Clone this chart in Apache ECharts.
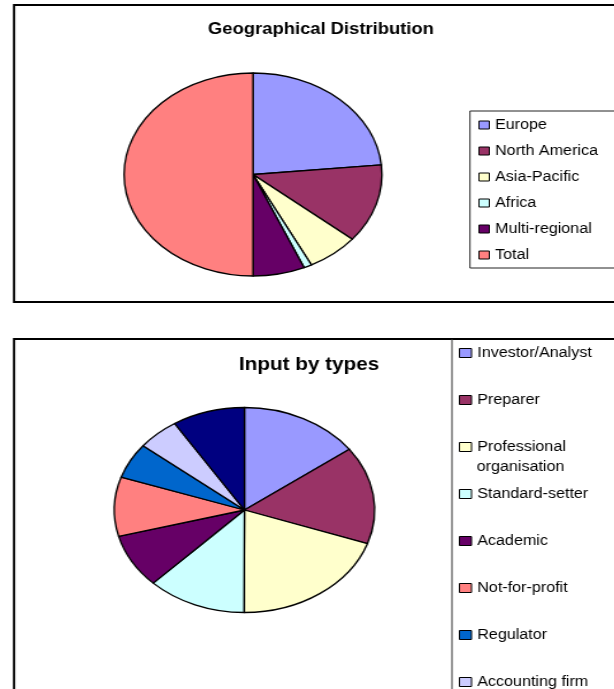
<!DOCTYPE html>
<html>
<head>
<meta charset="utf-8">
<script src="https://cdn.jsdelivr.net/npm/echarts@6/dist/echarts.min.js"></script>
<style>
  html, body { margin: 0; padding: 0; background: #fff; }
  #pies { position: absolute; left: 0; top: 0; width: 484px; height: 689px; transform: scaleX(1.27); transform-origin: 0 0; }
  #main { position: absolute; left: 0; top: 0; width: 534px; height: 689px; transform: scaleX(1.15); transform-origin: 0 0; }
</style>
</head>
<body>
<div id="pies"></div>
<div id="main"></div>
<script>
// chart data
var geoTitle = 'Geographical Distribution';
var geoNames = ['Europe', 'North America', 'Asia-Pacific', 'Africa', 'Multi-regional', 'Total'];
var geoValues = [47, 25, 13, 2, 13, 100];
var geoColors = ['#9999FF', '#993366', '#FFFFCC', '#CCFFFF', '#660066', '#FF8080'];

var typeTitle = 'Input by types';
var typeNames = ['Investor/Analyst', 'Preparer', 'Professional organisation', 'Standard-setter',
  'Academic', 'Not-for-profit', 'Regulator', 'Accounting firm', 'Other'];
var typeValues = [14.9, 15.4, 19.7, 12.3, 8.5, 9.3, 5.6, 5.2, 9.0];
var typeColors = ['#9999FF', '#993366', '#FFFFCC', '#CCFFFF', '#660066', '#FF8080', '#0066CC', '#CCCCFF', '#000080'];

var font = 'Arial, "Liberation Sans", sans-serif';

function pieData(names, values, colors) {
  return names.map(function (n, i) {
    return { name: n, value: values[i], itemStyle: { color: colors[i] } };
  });
}

// the pies are stretched sideways like the original picture
var pieChart = echarts.init(document.getElementById('pies'));
var pieBase = {
  type: 'pie',
  startAngle: 90,
  clockwise: true,
  label: { show: false },
  labelLine: { show: false },
  emphasis: { disabled: true },
  silent: true,
  itemStyle: { borderColor: '#000', borderWidth: 1.3 }
};
pieChart.setOption({
  animation: false,
  series: [
    Object.assign({}, pieBase, { center: [199.2, 174.5], radius: 101.5, data: pieData(geoNames, geoValues, geoColors) }),
    Object.assign({}, pieBase, { center: [192.5, 510], radius: 102.5, data: pieData(typeNames, typeValues, typeColors) })
  ]
});

// titles, legends and frames
var myChart = echarts.init(document.getElementById('main'));

function legendBase(extra) {
  return Object.assign({
    orient: 'vertical',
    icon: 'rect',
    padding: 0,
    height: 400,
    selectedMode: false,
    itemWidth: 10.5,
    itemHeight: 9,
    itemGap: 26,
    itemStyle: { borderColor: '#000', borderWidth: 1 },
    textStyle: { color: '#000', fontSize: 14, fontFamily: font, lineHeight: 21 }
  }, extra);
}

var option = {
  animation: false,
  legend: [
    legendBase({ data: geoNames, left: 416, top: 117, itemWidth: 9, itemHeight: 8, itemGap: 10,
      textStyle: { color: '#000', fontSize: 14, fontFamily: font, lineHeight: 16 } }),
    legendBase({ data: typeNames.slice(0, 2), left: 399, top: 342.5 }),
    // second line of this label is drawn below as plain text, like the original
    legendBase({ data: [typeNames[2]], left: 399, top: 436.5,
      formatter: function (n) { return n.split(' ')[0]; } }),
    legendBase({ data: typeNames.slice(3), left: 399, top: 483.5 })
  ],
  graphic: [
    { type: 'rect', shape: { x: 12.2, y: 5, width: 620, height: 297 }, style: { fill: 'none', stroke: '#000', lineWidth: 2 }, silent: true },
    { type: 'rect', shape: { x: 408.7, y: 111, width: 200, height: 157 }, style: { fill: 'none', stroke: '#222', lineWidth: 1 }, silent: true },
    { type: 'rect', shape: { x: 12.2, y: 339, width: 620, height: 420 }, style: { fill: 'none', stroke: '#000', lineWidth: 2 }, silent: true },
    { type: 'line', shape: { x1: 393, y1: 339, x2: 393, y2: 700 }, style: { stroke: '#333', lineWidth: 1 }, silent: true },
    { type: 'text', x: 279.1, y: 30, silent: true,
      style: { text: geoTitle, align: 'center', verticalAlign: 'middle', fontSize: 16, fontWeight: 'bold', fontFamily: font, fill: '#000' } },
    { type: 'text', x: 268.7, y: 365, silent: true,
      style: { text: typeTitle, align: 'center', verticalAlign: 'middle', fontSize: 18, fontWeight: 'bold', fontFamily: font, fill: '#000' } },
    { type: 'text', x: 414.5, y: 467, silent: true,
      style: { text: typeNames[2].split(' ')[1], align: 'left', verticalAlign: 'middle', fontSize: 14, fontFamily: font, fill: '#000' } }
  ],
  // hidden copies feed the legends; the visible pies are in the chart underneath
  series: [
    { type: 'pie', center: [-300, -300], radius: 5, silent: true, label: { show: false }, labelLine: { show: false },
      data: pieData(geoNames, geoValues, geoColors) },
    { type: 'pie', center: [-300, -300], radius: 5, silent: true, label: { show: false }, labelLine: { show: false },
      data: pieData(typeNames, typeValues, typeColors) }
  ]
};
myChart.setOption(option);
</script>
</body>
</html>
